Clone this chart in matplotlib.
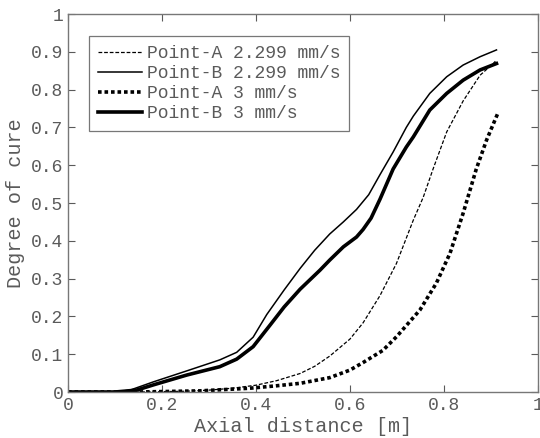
import matplotlib.pyplot as plt

plt.rcParams['font.family'] = ['Liberation Mono', 'DejaVu Sans Mono']

# Point-A, 2.299 mm/s
xa1 = [0, 0.15, 0.25, 0.3, 0.35, 0.4, 0.444, 0.494, 0.525, 0.557, 0.6, 0.628,
       0.664, 0.699, 0.735, 0.756, 0.777, 0.806, 0.841, 0.877, 0.905, 0.912]
ya1 = [0, 0, 0.002, 0.005, 0.01, 0.018, 0.03, 0.049, 0.068, 0.095, 0.14, 0.183,
       0.255, 0.34, 0.455, 0.515, 0.59, 0.688, 0.77, 0.838, 0.869, 0.878]

# Point-B, 2.299 mm/s
xb1 = [0, 0.10, 0.132, 0.182, 0.253, 0.323, 0.359, 0.394, 0.423, 0.46, 0.494,
       0.525, 0.557, 0.586, 0.614, 0.64, 0.664, 0.692, 0.72, 0.735, 0.77,
       0.806, 0.841, 0.877, 0.912]
yb1 = [0, 0, 0.005, 0.027, 0.056, 0.085, 0.105, 0.145, 0.205, 0.27, 0.327,
       0.375, 0.418, 0.45, 0.483, 0.522, 0.575, 0.635, 0.7, 0.73, 0.79,
       0.834, 0.865, 0.887, 0.905]

# Point-A, 3 mm/s
xa2 = [0, 0.15, 0.28, 0.387, 0.44, 0.494, 0.557, 0.6, 0.628, 0.67, 0.699, 0.749,
       0.784, 0.813, 0.841, 0.869, 0.891, 0.916]
ya2 = [0, 0, 0.003, 0.01, 0.016, 0.023, 0.038, 0.058, 0.078, 0.11, 0.146, 0.217,
       0.288, 0.367, 0.473, 0.59, 0.667, 0.741]

# Point-B, 3 mm/s
xb2 = [0, 0.10, 0.146, 0.182, 0.253, 0.323, 0.359, 0.394, 0.43, 0.46, 0.494,
       0.536, 0.557, 0.586, 0.614, 0.628, 0.645, 0.664, 0.692, 0.72, 0.735,
       0.77, 0.806, 0.841, 0.877, 0.912]
yb2 = [0, 0, 0.005, 0.019, 0.045, 0.067, 0.087, 0.12, 0.177, 0.225, 0.272,
       0.322, 0.349, 0.384, 0.41, 0.43, 0.46, 0.51, 0.59, 0.648, 0.675,
       0.746, 0.79, 0.825, 0.852, 0.869]

grey = '#5a5a5a'

fig = plt.figure(figsize=(5.4, 4.38), dpi=100)
ax = fig.add_axes([0.126, 0.105, 0.87, 0.863])

kw = dict(color='black', solid_joinstyle='round', dash_joinstyle='round')
ax.plot(xa1, ya1, lw=0.9, ls=(0, (3, 1.5)), label='Point-A 2.299 mm/s', **kw)
ax.plot(xb1, yb1, lw=1.1, ls='-', label='Point-B 2.299 mm/s', **kw)
ax.plot(xa2, ya2, lw=2.6, ls=(0, (1, 0.8)), label='Point-A 3 mm/s', **kw)
ax.plot(xb2, yb2, lw=2.6, ls='-', label='Point-B 3 mm/s', **kw)

ax.set_xlim(0, 1)
ax.set_ylim(0, 1)
ax.set_xticks([0, 0.2, 0.4, 0.6, 0.8, 1])
ax.set_xticklabels(['0', '0.2', '0.4', '0.6', '0.8', '1'])
ax.set_yticks([i / 10 for i in range(11)])
ax.set_yticklabels(['0'] + ['0.%d' % i for i in range(1, 10)] + ['1'])
ax.tick_params(direction='in', top=True, right=True, length=5, width=0.8,
               colors=grey, labelsize=13, labelcolor=grey)
for s in ax.spines.values():
    s.set_color('#777777')
    s.set_linewidth(1.0)

ax.set_xlabel('Axial distance [m]', fontsize=14.5, color=grey, labelpad=2)
ax.set_ylabel('Degree of cure', fontsize=14.5, color=grey, labelpad=4)

leg = ax.legend(loc='upper left', bbox_to_anchor=(0.045, 0.942), fontsize=13,
                frameon=True, fancybox=False, handlelength=2.4,
                handletextpad=0.3, labelspacing=0.17, borderpad=0.5,
                borderaxespad=0, labelcolor=grey)
leg.get_frame().set_edgecolor('#555555')
leg.get_frame().set_linewidth(0.9)

fig.savefig('out.png', dpi=100)
